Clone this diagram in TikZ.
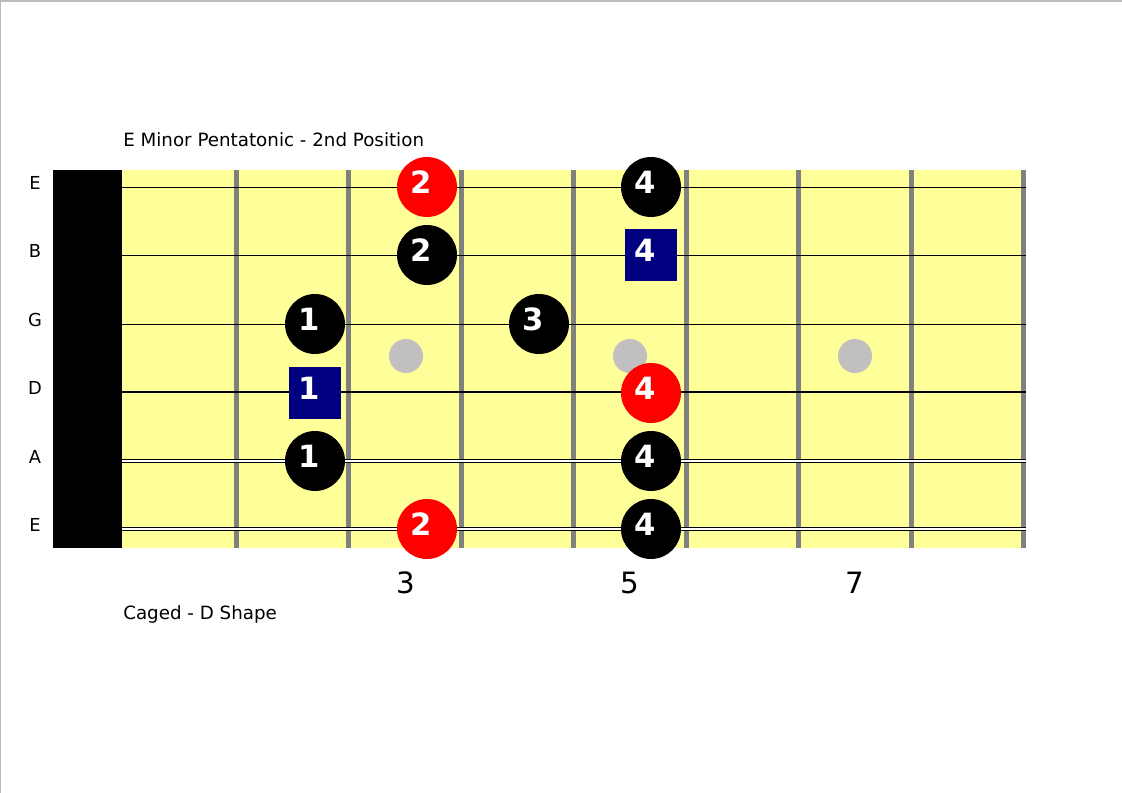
\documentclass[tikz,border=0pt]{standalone}
\usepackage{fontspec}
\setmainfont{DejaVu Sans}
\usepackage{xcolor}

\definecolor{board}{RGB}{255,255,153}
\definecolor{fretgray}{RGB}{128,128,128}
\definecolor{dotgray}{RGB}{192,192,192}
\definecolor{navyblue}{RGB}{0,0,128}
\definecolor{edgegray}{RGB}{187,187,187}

\begin{document}
\begin{tikzpicture}[x=0.75pt, y=-0.75pt,
    digit/.style={text=white, font=\bfseries\fontsize{23}{23}\selectfont,
      xshift=-4.5pt, yshift=3.4pt},
    fing/.style={circle, fill=black, minimum size=45pt, inner sep=0pt,
      label={[digit]center:#1}},
    root/.style={fing=#1, fill=red},
    boxfing/.style={rectangle, fill=navyblue, minimum size=39pt, inner sep=0pt,
      label={[digit]center:#1}},
    strname/.style={font=\fontsize{13.4}{14}\selectfont},
    fretno/.style={font=\fontsize{22}{22}\selectfont, anchor=base},
    caption/.style={font=\fontsize{13.7}{14}\selectfont, anchor=base west,
      inner sep=0pt}]
  \useasboundingbox (0,0) rectangle (1122,793);
  \fill[white] (0,0) rectangle (1122,793);
  \draw[edgegray, line width=1.5pt] (0,793) -- (0,0.5) -- (1122,0.5);

  % board and nut
  \fill[board] (122,170) rectangle (1026,548);
  \fill[black] (53,170) rectangle (122,548);
  \foreach \k in {0,...,7}
    \fill[fretgray] (234+112.43*\k,170) rectangle (239+112.43*\k,548);

  % inlay dots
  \fill[dotgray] (406,356) circle (17);
  \fill[dotgray] (630,356) circle (17);
  \fill[dotgray] (855,356) circle (17);

  % string names
  \node[strname] (s1) at (35,183) {E};
  \node[strname] (s2) at (35,251) {B};
  \node[strname] (s3) at (35,320) {G};
  \node[strname] (s4) at (35,388) {D};
  \node[strname] (s5) at (35,457) {A};
  \node[strname] (s6) at (35,525) {E};

  % strings
  \draw[line width=0.75pt] (122,187) -- (1026,187);
  \draw[line width=0.75pt] (122,255) -- (1026,255);
  \draw[line width=0.75pt] (122,324) -- (1026,324);
  \draw[line width=1.1pt] (122,392) -- (1026,392);
  \draw[line width=0.75pt, double=white, double distance=1.2pt] (122,461) -- (1026,461);
  \draw[line width=0.75pt, double=white, double distance=2pt] (122,529) -- (1026,529);

  % fingerings
  \node[root=2] (e2) at (427,187) {};
  \node[fing=4] (e4) at (651,187) {};
  \node[fing=2] (b2) at (427,255) {};
  \node[boxfing=4] (b4) at (651,255) {};
  \node[fing=1] (g1) at (315,324) {};
  \node[fing=3] (g3) at (539,324) {};
  \node[boxfing=1] (d1) at (315,393) {};
  \node[root=4] (d4) at (651,393) {};
  \node[fing=1] (a1) at (315,461) {};
  \node[fing=4] (a4) at (651,461) {};
  \node[root=2] (le2) at (427,529) {};
  \node[fing=4] (le4) at (651,529) {};

  % fret numbers
  \node[fretno] (f3) at (406,593) {3};
  \node[fretno] (f5) at (630,593) {5};
  \node[fretno] (f7) at (855,593) {7};

  \node[caption] (title) at (123,146) {E Minor Pentatonic - 2nd Position};
  \node[caption] (shape) at (123,619) {Caged - D Shape};
\end{tikzpicture}
\end{document}
